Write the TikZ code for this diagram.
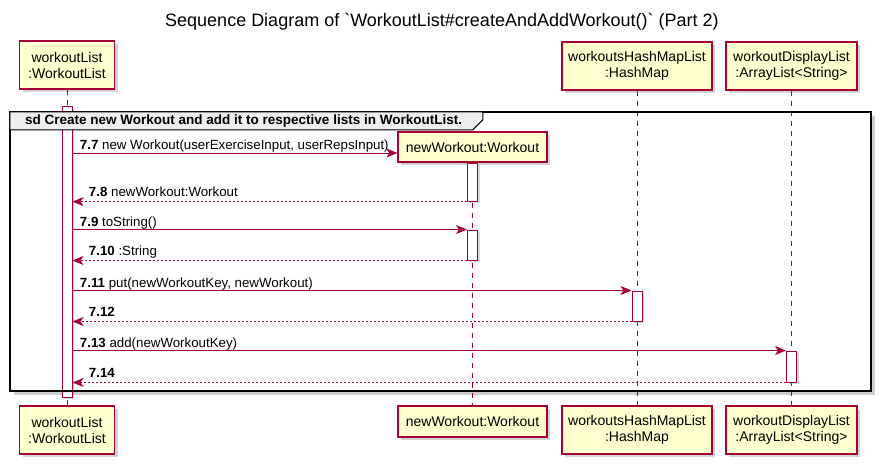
\documentclass[tikz,border=0pt]{standalone}
\usepackage{fontspec}
\setmainfont{Liberation Sans}[Ligatures=TeXOff]
\usetikzlibrary{arrows.meta,shadows}
\definecolor{umlred}{HTML}{A80036}
\definecolor{umlfill}{HTML}{FEFECE}

\begin{document}
\begin{tikzpicture}[x=1pt, y=-1pt,
  part/.style={draw=umlred, fill=umlfill, line width=1.2pt, align=center, inner sep=2pt,
    font=\fontsize{14}{16}\selectfont,
    drop shadow={shadow xshift=3pt, shadow yshift=-3pt, opacity=0.35}},
  bar/.style={draw=umlred, fill=white, line width=1pt, minimum width=10, inner sep=0pt,
    drop shadow={shadow xshift=2pt, shadow yshift=-2pt, opacity=0.3}},
  life/.style={umlred, line width=0.8pt, dash pattern=on 5pt off 5pt},
  call/.style={umlred, line width=0.9pt, -{Stealth[length=11pt, width=9pt, inset=3pt]}},
  ret/.style={call, dash pattern=on 2pt off 2pt},
  msg/.style={font=\fontsize{13.3}{15}\selectfont, text=black, inner sep=0pt, anchor=base west}]
  \useasboundingbox (0,0) rectangle (884,468);

  \node[font=\fontsize{18}{20}\selectfont] (title) at (442,22)
    {Sequence Diagram of `WorkoutList\#createAndAddWorkout()` (Part 2)};

  \node[part, minimum width=95, minimum height=48] (wlTop) at (67,65) {workoutList\\:WorkoutList};
  \node[part, minimum width=150, minimum height=48] (hmTop) at (637,66) {workoutsHashMapList\\:HashMap};
  \node[part, minimum width=131, minimum height=48] (dlTop) at (791.5,66) {workoutDisplayList\\:ArrayList<String>};
  \node[part, minimum width=95, minimum height=48] (wlBot) at (67,430) {workoutList\\:WorkoutList};
  \node[part, minimum width=149, minimum height=31] (nwBot) at (472.5,421.5) {newWorkout:Workout};
  \node[part, minimum width=150, minimum height=48] (hmBot) at (637,430) {workoutsHashMapList\\:HashMap};
  \node[part, minimum width=131, minimum height=48] (dlBot) at (791.5,430) {workoutDisplayList\\:ArrayList<String>};

  \node[fill=white, minimum width=861, minimum height=279, inner sep=0pt,
    drop shadow={shadow xshift=4pt, shadow yshift=-4pt, opacity=0.4}] (sdFrame) at (440.5,251.5) {};

  \draw[life] (wlTop) -- (wlBot);
  \draw[life] (hmTop) -- (hmBot);
  \draw[life] (dlTop) -- (dlBot);

  \node[part, minimum width=149, minimum height=30] (nwBox) at (472.5,147) {newWorkout:Workout};
  \draw[life] (nwBox) -- (nwBot);

  \node[bar, minimum height=290] (wlAct) at (wlTop |- 0,252) {};
  \node[bar, minimum height=38, anchor=north] (nwAct1) at (nwBox.south) {};
  \node[bar, minimum height=30] (nwAct2) at (nwBox |- 0,245) {};
  \node[bar, minimum height=30] (hmAct) at (hmTop |- 0,306) {};
  \node[bar, minimum height=31] (dlAct) at (dlTop |- 0,366.5) {};

  \draw[line width=1.8pt] (sdFrame.north west) rectangle (sdFrame.south east);
  \draw[fill=gray!13, line width=1pt] (sdFrame.north west) -- ++(473,0) -- ++(0,8) -- ++(-10,10)
    -- (sdFrame.north west |- 0,130) -- cycle;
  \node[font=\bfseries\fontsize{13.5}{15}\selectfont, anchor=west, inner sep=0pt] (sdLabel) at (25,121)
    {sd Create new Workout and add it to respective lists in WorkoutList.};

  \draw[call] (wlAct.east |- 0,153) -- (nwBox.west |- 0,153)
    node[msg, pos=0, xshift=7, yshift=3.5] {\textbf{7.7} new Workout(userExerciseInput, userRepsInput)};
  \draw[ret] (nwAct1.south west) -- (wlAct.east |- nwAct1.south)
    node[msg, pos=1, xshift=16, yshift=5] {\textbf{7.8} newWorkout:Workout};
  \draw[call] (wlAct.east |- nwAct2.north) -- (nwAct2.north west)
    node[msg, pos=0, xshift=7, yshift=3.5] {\textbf{7.9} toString()};
  \draw[ret] (nwAct2.south west) -- (wlAct.east |- nwAct2.south)
    node[msg, pos=1, xshift=16, yshift=5] {\textbf{7.10} :String};
  \draw[call] (wlAct.east |- hmAct.north) -- (hmAct.north west)
    node[msg, pos=0, xshift=7, yshift=3.5] {\textbf{7.11} put(newWorkoutKey, newWorkout)};
  \draw[ret] (hmAct.south west) -- (wlAct.east |- hmAct.south)
    node[msg, pos=1, xshift=16, yshift=5] {\textbf{7.12}};
  \draw[call] (wlAct.east |- dlAct.north) -- (dlAct.north west)
    node[msg, pos=0, xshift=7, yshift=3.5] {\textbf{7.13} add(newWorkoutKey)};
  \draw[ret] (dlAct.south west) -- (wlAct.east |- dlAct.south)
    node[msg, pos=1, xshift=16, yshift=5] {\textbf{7.14}};
\end{tikzpicture}
\end{document}
